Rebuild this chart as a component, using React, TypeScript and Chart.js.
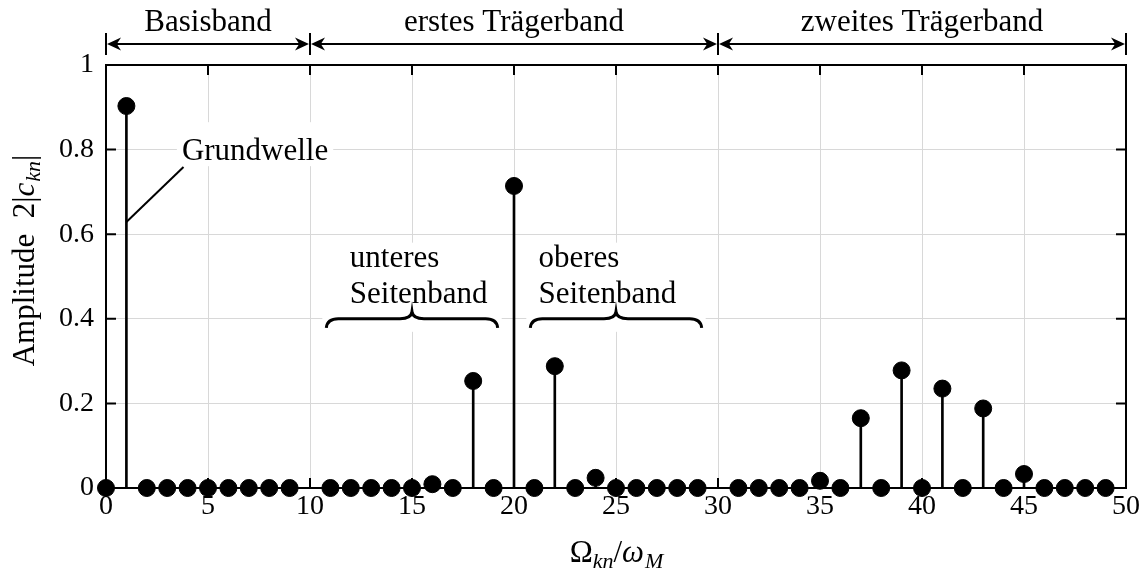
import { useEffect, useRef } from "react";
import { Chart, registerables } from "chart.js";

Chart.register(...registerables);

// Harmonic order (Ω_kn / ω_M) and amplitude 2|c_kn|
const orders = [
  0, 1, 2, 3, 4, 5, 6, 7, 8, 9,
  10, 11, 12, 13, 14, 15, 16, 17, 18, 19,
  20, 21, 22, 23, 24, 25, 26, 27, 28, 29,
  30, 31, 32, 33, 34, 35, 36, 37, 38, 39,
  40, 41, 42, 43, 44, 45, 46, 47, 48, 49,
];
const amplitudes: (number | null)[] = [
  0, 0.903, 0, 0, 0, 0, 0, 0, 0, 0,
  null, 0, 0, 0, 0, 0, 0.009, 0, 0.253, 0,
  0.714, 0, 0.288, 0, 0.024, 0, 0, 0, 0, 0,
  null, 0, 0, 0, 0, 0.017, 0, 0.165, 0, 0.278,
  0, 0.235, 0, 0.188, 0, 0.033, 0, 0, 0, 0,
];

const xTicks = [0, 5, 10, 15, 20, 25, 30, 35, 40, 45, 50];
const yTicks = [0, 0.2, 0.4, 0.6, 0.8, 1];

const bandEdges = [0, 10, 30, 50];
const bandLabels = ["Basisband", "erstes Trägerband", "zweites Trägerband"];

const sidebandFrom = [10.8, 20.8];
const sidebandTo = [19.2, 29.2];
const sidebandLine1 = ["unteres", "oberes"];
const sidebandLine2 = ["Seitenband", "Seitenband"];
const sidebandTextX = [11.95, 21.2];

const fundamentalLabel = "Grundwelle";
const fundamentalLabelPos = [3.72, 0.775];
const fundamentalLeader = [3.8, 0.759, 1, 0.629];

const FONT = "'Liberation Serif', 'DejaVu Serif', serif";
const FS = 28;
const LFS = 31;
const GRID = "#d8d8d8";

type Seg = { t: string; it?: boolean; sub?: boolean };

function segFont(s: Seg) {
  const size = s.sub ? Math.round(LFS * 0.7) : LFS;
  return `${s.it ? "italic " : ""}${size}px ${FONT}`;
}
function segsWidth(ctx: CanvasRenderingContext2D, segs: Seg[]) {
  let w = 0;
  for (const s of segs) {
    ctx.font = segFont(s);
    w += ctx.measureText(s.t).width;
  }
  return w;
}
function drawSegs(ctx: CanvasRenderingContext2D, segs: Seg[], x: number, y: number) {
  let cx = x;
  ctx.textAlign = "left";
  ctx.textBaseline = "alphabetic";
  for (const s of segs) {
    ctx.font = segFont(s);
    ctx.fillText(s.t, cx, s.sub ? y + 6 : y);
    cx += ctx.measureText(s.t).width + (s.it && !s.sub ? 1 : 0);
  }
}

function arrowHead(ctx: CanvasRenderingContext2D, tipX: number, y: number, dir: number) {
  const L = 14;
  const H = 6.5;
  ctx.beginPath();
  ctx.moveTo(tipX, y);
  ctx.lineTo(tipX - dir * L, y - H);
  ctx.lineTo(tipX - dir * L * 0.7, y);
  ctx.lineTo(tipX - dir * L, y + H);
  ctx.closePath();
  ctx.fill();
}

function brace(ctx: CanvasRenderingContext2D, x1: number, x2: number, y: number) {
  const xm = (x1 + x2) / 2;
  const d = 9;
  const r = 12;
  ctx.beginPath();
  ctx.moveTo(x1, y + d);
  ctx.quadraticCurveTo(x1 + 1, y, x1 + r, y);
  ctx.lineTo(xm - r, y);
  ctx.quadraticCurveTo(xm - 1, y, xm, y - 7);
  ctx.quadraticCurveTo(xm + 1, y, xm + r, y);
  ctx.lineTo(x2 - r, y);
  ctx.quadraticCurveTo(x2 - 1, y, x2, y + d);
  ctx.stroke();
}

const decor = {
  id: "decor",
  beforeDatasetsDraw(chart: any) {
    const { ctx, scales } = chart;
    const xs = scales.x;
    const ys = scales.y;
    ctx.save();
    ctx.fillStyle = "#000";
    ctx.strokeStyle = "#000";

    // Grundwelle label with white box
    const gx = xs.getPixelForValue(fundamentalLabelPos[0]);
    const gy = ys.getPixelForValue(fundamentalLabelPos[1]);
    ctx.font = `${LFS}px ${FONT}`;
    const gw = ctx.measureText(fundamentalLabel).width;
    ctx.fillStyle = "#fff";
    ctx.fillRect(gx - 5, gy - 38, gw + 10, 44);
    ctx.fillStyle = "#000";
    ctx.textAlign = "left";
    ctx.textBaseline = "alphabetic";
    ctx.fillText(fundamentalLabel, gx, gy);
    ctx.lineWidth = 2;
    ctx.beginPath();
    ctx.moveTo(xs.getPixelForValue(fundamentalLeader[0]), ys.getPixelForValue(fundamentalLeader[1]));
    ctx.lineTo(xs.getPixelForValue(fundamentalLeader[2]), ys.getPixelForValue(fundamentalLeader[3]));
    ctx.stroke();

    // sidebands
    for (let i = 0; i < sidebandFrom.length; i++) {
      const x1 = xs.getPixelForValue(sidebandFrom[i]);
      const x2 = xs.getPixelForValue(sidebandTo[i]);
      const by = ys.getPixelForValue(0.4);
      const top = ys.getPixelForValue(0.58);
      ctx.fillStyle = "#fff";
      ctx.fillRect(x1 - 4, top, x2 - x1 + 8, by + 13 - top);
      ctx.fillStyle = "#000";
      ctx.font = `${LFS}px ${FONT}`;
      const tx = xs.getPixelForValue(sidebandTextX[i]);
      ctx.fillText(sidebandLine1[i], tx, ys.getPixelForValue(0.523));
      ctx.fillText(sidebandLine2[i], tx, ys.getPixelForValue(0.438));
      ctx.lineWidth = 3;
      brace(ctx, x1, x2, by);
    }
    ctx.restore();
  },
  afterDraw(chart: any) {
    const { ctx, chartArea: a, scales } = chart;
    const xs = scales.x;
    const ys = scales.y;
    ctx.save();
    ctx.strokeStyle = "#000";
    ctx.fillStyle = "#000";
    // frame
    ctx.lineWidth = 2;
    ctx.strokeRect(a.left, a.top, a.right - a.left, a.bottom - a.top);
    // inward ticks
    const TL = 10;
    ctx.beginPath();
    for (const v of xTicks) {
      const px = xs.getPixelForValue(v);
      ctx.moveTo(px, a.bottom);
      ctx.lineTo(px, a.bottom - TL);
      ctx.moveTo(px, a.top);
      ctx.lineTo(px, a.top + TL);
    }
    for (const v of yTicks) {
      const py = ys.getPixelForValue(v);
      ctx.moveTo(a.left, py);
      ctx.lineTo(a.left + TL, py);
      ctx.moveTo(a.right, py);
      ctx.lineTo(a.right - TL, py);
    }
    ctx.stroke();

    // band arrows
    const ay = a.top - 21;
    ctx.beginPath();
    for (const e of bandEdges) {
      const px = xs.getPixelForValue(e);
      ctx.moveTo(px, ay - 11);
      ctx.lineTo(px, ay + 11);
    }
    for (let i = 0; i < bandLabels.length; i++) {
      ctx.moveTo(xs.getPixelForValue(bandEdges[i]) + 4, ay);
      ctx.lineTo(xs.getPixelForValue(bandEdges[i + 1]) - 4, ay);
    }
    ctx.stroke();
    ctx.font = `${LFS}px ${FONT}`;
    ctx.textAlign = "center";
    ctx.textBaseline = "alphabetic";
    for (let i = 0; i < bandLabels.length; i++) {
      const l = xs.getPixelForValue(bandEdges[i]);
      const r = xs.getPixelForValue(bandEdges[i + 1]);
      arrowHead(ctx, l + 1, ay, -1);
      arrowHead(ctx, r - 1, ay, 1);
      ctx.fillText(bandLabels[i], (l + r) / 2, a.top - 34);
    }

    // x title
    const xt: Seg[] = [
      { t: "Ω" },
      { t: "kn", it: true, sub: true },
      { t: "/" },
      { t: "ω", it: true },
      { t: "M", it: true, sub: true },
    ];
    const xw = segsWidth(ctx, xt);
    drawSegs(ctx, xt, (a.left + a.right) / 2 - xw / 2, 562);

    // y title
    const yt: Seg[] = [
      { t: "Amplitude  2|" },
      { t: "c", it: true },
      { t: "kn", it: true, sub: true },
      { t: "|" },
    ];
    const yw = segsWidth(ctx, yt);
    ctx.translate(34, 261);
    ctx.rotate(-Math.PI / 2);
    drawSegs(ctx, yt, -yw / 2, 0);
    ctx.restore();
  },
};

export default function App() {
  const ref = useRef<HTMLCanvasElement | null>(null);
  useEffect(() => {
    document.body.style.margin = "0";
    const pts = orders
      .map((x, i) => ({ x, y: amplitudes[i] }))
      .filter((p) => p.y !== null) as { x: number; y: number }[];
    const chart = new Chart(ref.current!, {
      type: "scatter",
      data: {
        datasets: [
          {
            type: "bar" as any,
            data: pts,
            backgroundColor: "#000",
            borderWidth: 0,
            barThickness: 2,
            order: 2,
          } as any,
          {
            type: "scatter",
            data: pts,
            backgroundColor: "#000",
            borderColor: "#000",
            pointRadius: 8.5,
            pointHoverRadius: 8.5,
            clip: false as any,
            order: 1,
          },
        ],
      },
      plugins: [decor],
      options: {
        animation: false,
        responsive: false,
        events: [],
        layout: { padding: { top: 65, right: 16, left: 0, bottom: 0 } },
        plugins: { legend: { display: false }, tooltip: { enabled: false } },
        scales: {
          x: {
            type: "linear",
            min: 0,
            max: 50,
            offset: false,
            afterBuildTicks: (s: any) => {
              s.ticks = xTicks.map((v) => ({ value: v }));
            },
            afterFit: (s: any) => {
              s.height = 83;
            },
            ticks: {
              color: "#000",
              font: { family: FONT, size: FS },
              padding: 2,
              maxRotation: 0,
              autoSkip: false,
            },
            grid: { color: GRID, lineWidth: 1, drawTicks: false, offset: false },
            border: { color: "#000", width: 2 },
          },
          y: {
            type: "linear",
            min: 0,
            max: 1,
            offset: false,
            afterBuildTicks: (s: any) => {
              s.ticks = yTicks.map((v) => ({ value: v }));
            },
            afterFit: (s: any) => {
              s.width = 106;
            },
            ticks: {
              color: "#000",
              font: { family: FONT, size: FS },
              padding: 12,
              callback: (v: any) => String(Math.round(Number(v) * 10) / 10),
            },
            grid: { color: GRID, lineWidth: 1, drawTicks: false, offset: false },
            border: { color: "#000", width: 2 },
          },
        },
      },
    });
    return () => chart.destroy();
  }, []);
  return <canvas ref={ref} width={1142} height={571} style={{ display: "block" }} />;
}
